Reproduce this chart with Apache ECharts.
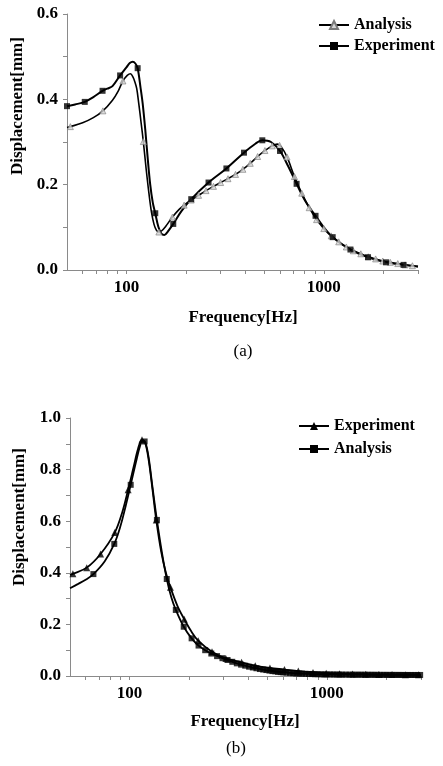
<!DOCTYPE html>
<html lang="en">

<head>
  <meta charset="UTF-8">
  <title>Displacement vs frequency</title>
  <style>
    body { margin: 0; background: #fff; }
  </style>
</head>

<body>
  <div id="main" style="width: 443px;height:766px;"></div>

  <script src="https://cdn.jsdelivr.net/npm/echarts@6/dist/echarts.min.js"></script>
  <script>
    // ---- chart (a) : [frequency Hz, displacement mm]
    let anaCurveA = [
      [50, 0.334], [52, 0.336], [60, 0.345], [68, 0.357], [76, 0.373], [85, 0.398], [91, 0.42],
      [96, 0.443], [101, 0.456], [104.8, 0.460], [108, 0.452], [110.5, 0.44], [112.8, 0.425],
      [115.5, 0.39], [118.7, 0.345], [121.8, 0.301], [126, 0.235], [130, 0.18], [134, 0.135],
      [138, 0.107], [142, 0.093], [146, 0.089], [151, 0.092], [158, 0.102], [171, 0.124],
      [185, 0.142], [196, 0.152], [213, 0.164], [232, 0.175], [253, 0.186], [276, 0.196],
      [300, 0.205], [327, 0.214], [357, 0.224], [389, 0.236], [424, 0.250], [462, 0.266],
      [503, 0.280], [548, 0.291], [581, 0.295], [610, 0.288], [651, 0.265], [710, 0.219],
      [773, 0.180], [843, 0.146], [919, 0.118], [1000, 0.097], [1090, 0.080], [1190, 0.066],
      [1300, 0.054], [1410, 0.045], [1540, 0.038], [1680, 0.031], [1830, 0.026], [1990, 0.021],
      [2170, 0.018], [2370, 0.015], [2580, 0.012], [2810, 0.010], [3000, 0.008]
    ];
    let anaMarksA = [
      [52, 0.336], [76, 0.373], [96, 0.443], [121.8, 0.301], [146, 0.089], [171, 0.124],
      [196, 0.152], [213, 0.164], [232, 0.175], [253, 0.186], [276, 0.196], [300, 0.205],
      [327, 0.214], [357, 0.224], [389, 0.236], [424, 0.250], [462, 0.266], [503, 0.280],
      [548, 0.291], [597, 0.292], [651, 0.265], [710, 0.219], [773, 0.180], [843, 0.146],
      [919, 0.118], [1000, 0.097], [1090, 0.080], [1190, 0.066], [1300, 0.054], [1410, 0.045],
      [1540, 0.038], [1680, 0.031], [1830, 0.026], [1990, 0.021], [2170, 0.018], [2370, 0.015],
      [2580, 0.012], [2810, 0.010]
    ];
    let expCurveA = [
      [50, 0.384], [55, 0.388], [61.5, 0.394], [68, 0.405], [75.7, 0.420], [80, 0.425],
      [85, 0.431], [92.9, 0.456], [100, 0.475], [104, 0.485], [107.6, 0.488], [111, 0.484],
      [114, 0.473], [117.7, 0.43], [120.9, 0.39], [124.8, 0.325], [128, 0.265], [132, 0.20],
      [136, 0.158], [140, 0.133], [145, 0.102], [150, 0.086], [155.6, 0.082], [162, 0.090],
      [172.7, 0.108], [190, 0.138], [213, 0.166], [260.6, 0.205], [321, 0.238], [394, 0.275],
      [450, 0.296], [488, 0.304], [540, 0.300], [600, 0.279], [660, 0.243], [728, 0.202],
      [810, 0.160], [908, 0.127], [1000, 0.100], [1109, 0.077], [1364, 0.048], [1675, 0.030],
      [2066, 0.018], [2535, 0.012], [3000, 0.008]
    ];
    let expMarksA = [
      [50, 0.384], [61.5, 0.394], [75.7, 0.420], [92.9, 0.456], [114, 0.473], [140, 0.133],
      [172.7, 0.108], [213, 0.166], [260.6, 0.205], [321, 0.238], [394, 0.275], [488, 0.304],
      [600, 0.279], [728, 0.202], [908, 0.127], [1109, 0.077], [1364, 0.048], [1675, 0.030],
      [2066, 0.018], [2535, 0.012]
    ];

    // ---- chart (b)
    let expCurveB = [
      [50, 0.392], [51.7, 0.396], [60.8, 0.420], [71.4, 0.473], [84.3, 0.556], [92, 0.635],
      [98.5, 0.722], [105, 0.81], [110.5, 0.88], [115.8, 0.916], [120, 0.905], [125, 0.84],
      [131, 0.72], [136.7, 0.605], [145, 0.48], [153, 0.40], [161.3, 0.344], [175, 0.272],
      [189.6, 0.220], [205, 0.175], [223, 0.137], [262, 0.094], [308, 0.068], [370, 0.053],
      [434, 0.040], [515, 0.031], [610, 0.025], [717, 0.019], [851, 0.014], [993, 0.011],
      [1160, 0.009], [1350, 0.008], [1575, 0.007], [1836, 0.006], [2140, 0.006], [2500, 0.005],
      [2915, 0.005], [3000, 0.005]
    ];
    let expMarksB = [
      [51.7, 0.396], [60.8, 0.420], [71.4, 0.473], [84.3, 0.556], [98.5, 0.722], [115.8, 0.916],
      [136.7, 0.605], [161.3, 0.344], [189.6, 0.220], [223, 0.137], [262, 0.094], [308, 0.068],
      [370, 0.053], [434, 0.040], [515, 0.031], [610, 0.025], [717, 0.019], [851, 0.014],
      [993, 0.011], [1160, 0.009], [1350, 0.008], [1575, 0.007], [1836, 0.006], [2140, 0.006],
      [2500, 0.005], [2915, 0.005]
    ];
    let anaCurveB = [
      [50, 0.340], [55, 0.357], [60, 0.373], [65.7, 0.395], [75, 0.445], [83.8, 0.512],
      [90, 0.58], [95.8, 0.66], [101.5, 0.741], [108, 0.83], [113, 0.89], [117, 0.912],
      [120.5, 0.905], [125, 0.85], [131, 0.73], [137.8, 0.605], [146, 0.48], [154.6, 0.376],
      [163, 0.305], [171.8, 0.256], [188.4, 0.191], [206.6, 0.146], [224, 0.118], [242, 0.100],
      [260, 0.087], [296, 0.069], [350, 0.049], [404, 0.036], [476, 0.025], [548, 0.018],
      [602, 0.014], [700, 0.010], [810, 0.008], [1000, 0.006], [1500, 0.005], [2000, 0.0044],
      [3000, 0.004]
    ];
    let anaMarksB = [
      [65.7, 0.395], [83.8, 0.512], [101.5, 0.741], [119.4, 0.909], [137.8, 0.605], [154.6, 0.376],
      [171.8, 0.256], [188.4, 0.191], [206.6, 0.146], [224, 0.118], [242, 0.100], [260, 0.087],
      [278, 0.077], [296, 0.069], [314, 0.062], [332, 0.055], [350, 0.049], [368, 0.044],
      [386, 0.040], [404, 0.036], [422, 0.033], [440, 0.030], [458, 0.027], [476, 0.025],
      [494, 0.023], [512, 0.021], [530, 0.019], [548, 0.018], [566, 0.016], [584, 0.015],
      [602, 0.014], [625, 0.013], [650, 0.012], [675, 0.011], [700, 0.010], [725, 0.0095],
      [750, 0.009], [780, 0.0085], [810, 0.008], [840, 0.0075], [870, 0.007], [900, 0.007],
      [935, 0.0065], [970, 0.006], [1000, 0.006], [1040, 0.006], [1080, 0.0058], [1120, 0.0056],
      [1160, 0.0055], [1200, 0.0054], [1250, 0.0053], [1300, 0.0052], [1350, 0.0051], [1400, 0.005],
      [1450, 0.005], [1500, 0.005], [1560, 0.0049], [1620, 0.0048], [1680, 0.0047], [1740, 0.0046],
      [1800, 0.0045], [1870, 0.0045], [1940, 0.0044], [2010, 0.0044], [2080, 0.0043], [2160, 0.0043],
      [2240, 0.0042], [2320, 0.0042], [2400, 0.0041], [2490, 0.0041], [2580, 0.004], [2670, 0.004],
      [2770, 0.004], [2870, 0.004], [2970, 0.004]
    ];

    // ---- axes
    let freqTicks = [60, 70, 80, 90, 100, 200, 300, 400, 500, 600, 700, 800, 900, 1000, 2000, 3000];
    let freqLabels = [100, 1000];
    let yMaxA = 0.6;
    let yMaxB = 1.0;

    let serif = '"Liberation Serif", "Times New Roman", serif';
    let axisGrey = '#8a8a8a';

    function makeX(gridIndex) {
      return {
        type: 'log',
        gridIndex: gridIndex,
        logBase: 10,
        min: 50,
        max: 3000,
        axisLine: { lineStyle: { color: axisGrey, width: 1 } },
        axisTick: { customValues: freqTicks, length: 4, lineStyle: { color: axisGrey } },
        axisLabel: {
          customValues: freqLabels,
          formatter: v => String(v),
          margin: 9,
          color: '#000',
          fontFamily: serif,
          fontWeight: 'bold',
          fontSize: 17
        },
        splitLine: { show: false },
        minorSplitLine: { show: false }
      };
    }

    function makeY(gridIndex, max) {
      return {
        type: 'value',
        gridIndex: gridIndex,
        min: 0,
        max: max,
        interval: 0.2,
        axisLine: { show: true, lineStyle: { color: axisGrey, width: 1 } },
        axisTick: { show: true, length: 4, lineStyle: { color: axisGrey } },
        minorTick: { show: true, splitNumber: 2, length: 4, lineStyle: { color: axisGrey } },
        axisLabel: {
          formatter: v => v.toFixed(1),
          margin: 9,
          color: '#000',
          fontFamily: serif,
          fontWeight: 'bold',
          fontSize: 17
        },
        splitLine: { show: false }
      };
    }

    // curve = smooth line, marks = scatter on top
    function curve(name, data, idx, symbol, itemStyle, width) {
      return {
        type: 'line',
        name: name,
        xAxisIndex: idx,
        yAxisIndex: idx,
        data: data,
        smooth: 0.35,
        symbol: symbol,
        showSymbol: false,
        lineStyle: { color: '#000', width: width },
        itemStyle: itemStyle,
        emphasis: { disabled: true },
        z: 2
      };
    }

    function marks(data, idx, symbol, size, itemStyle) {
      return {
        type: 'scatter',
        xAxisIndex: idx,
        yAxisIndex: idx,
        data: data,
        symbol: symbol,
        symbolSize: size,
        itemStyle: itemStyle,
        emphasis: { disabled: true },
        z: 3
      };
    }

    let greyTri = { color: '#d4d4d4', borderColor: '#7a7a7a', borderWidth: 0.8 };
    let black = { color: '#000' };

    let legendText = { fontFamily: serif, fontWeight: 'bold', fontSize: 16, color: '#000' };

    let chart = echarts.init(document.getElementById('main'));
    chart.setOption({
      animation: false,
      grid: [
        { left: 67, top: 14, width: 351, height: 256 },
        { left: 70, top: 418, width: 351, height: 258 }
      ],
      xAxis: [makeX(0), makeX(1)],
      yAxis: [makeY(0, yMaxA), makeY(1, yMaxB)],
      legend: [{
        data: ['Analysis (a)', 'Experiment (a)'],
        formatter: n => n.split(' ')[0],
        orient: 'vertical',
        left: 318,
        top: 17,
        padding: 0,
        itemWidth: 30,
        itemHeight: 10,
        itemGap: 5,
        selectedMode: false,
        textStyle: legendText
      }, {
        data: ['Experiment (b)', 'Analysis (b)'],
        formatter: n => n.split(' ')[0],
        orient: 'vertical',
        left: 298,
        top: 418,
        padding: 0,
        itemWidth: 30,
        itemHeight: 10,
        itemGap: 7,
        selectedMode: false,
        textStyle: legendText
      }],
      graphic: [
        {
          type: 'text', x: 18, y: 106, rotation: Math.PI / 2,
          style: { text: 'Displacement[mm]', font: 'bold 17px ' + serif, fill: '#000', align: 'center', verticalAlign: 'middle' }
        },
        {
          type: 'text', x: 243, y: 318,
          style: { text: 'Frequency[Hz]', font: 'bold 17px ' + serif, fill: '#000', align: 'center', verticalAlign: 'middle' }
        },
        {
          type: 'text', x: 243, y: 352,
          style: { text: '(a)', font: '17px ' + serif, fill: '#000', align: 'center', verticalAlign: 'middle' }
        },
        {
          type: 'text', x: 20, y: 517, rotation: Math.PI / 2,
          style: { text: 'Displacement[mm]', font: 'bold 17px ' + serif, fill: '#000', align: 'center', verticalAlign: 'middle' }
        },
        {
          type: 'text', x: 245, y: 722,
          style: { text: 'Frequency[Hz]', font: 'bold 17px ' + serif, fill: '#000', align: 'center', verticalAlign: 'middle' }
        },
        {
          type: 'text', x: 236, y: 749,
          style: { text: '(b)', font: '17px ' + serif, fill: '#000', align: 'center', verticalAlign: 'middle' }
        }
      ],
      series: [
        curve('Analysis (a)', anaCurveA, 0, 'triangle', greyTri, 1.6),
        curve('Experiment (a)', expCurveA, 0, 'rect', black, 2),
        marks(anaMarksA, 0, 'triangle', 6, greyTri),
        marks(expMarksA, 0, 'rect', 6, black),
        curve('Experiment (b)', expCurveB, 1, 'triangle', black, 1.8),
        curve('Analysis (b)', anaCurveB, 1, 'rect', black, 1.8),
        marks(expMarksB, 1, 'triangle', 7, black),
        marks(anaMarksB, 1, 'rect', 6, black)
      ]
    });
  </script>
</body>

</html>
